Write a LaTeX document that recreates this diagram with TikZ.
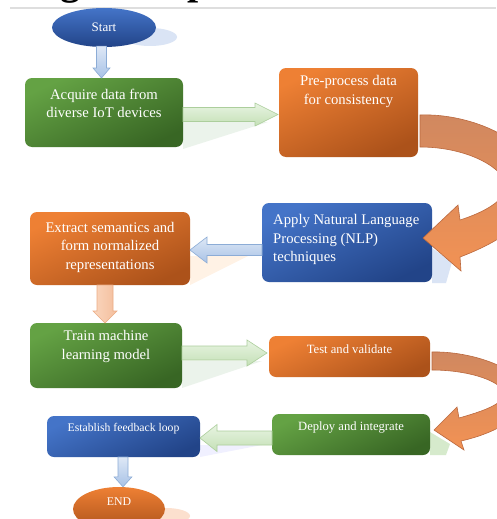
\documentclass[tikz,border=0pt]{standalone}
\usepackage{fontspec}
\setmainfont{Liberation Serif}
\usetikzlibrary{calc,shapes.geometric}
\definecolor{gTop}{RGB}{100,162,68}
\definecolor{gBot}{RGB}{56,102,36}
\definecolor{oTop}{RGB}{238,128,52}
\definecolor{oBot}{RGB}{172,82,26}
\definecolor{bTop}{RGB}{68,116,200}
\definecolor{bBot}{RGB}{34,68,136}
\definecolor{agTop}{RGB}{232,244,226}
\definecolor{agBot}{RGB}{196,224,182}
\definecolor{agDr}{RGB}{172,206,156}
\definecolor{abTop}{RGB}{222,232,246}
\definecolor{abBot}{RGB}{168,194,230}
\definecolor{abDr}{RGB}{140,172,214}
\definecolor{apTop}{RGB}{250,214,190}
\definecolor{apBot}{RGB}{244,190,156}
\definecolor{apDr}{RGB}{236,172,132}
\definecolor{uTop}{RGB}{208,136,96}
\definecolor{uBot}{RGB}{242,146,84}
\definecolor{uDr}{RGB}{186,104,62}
\definecolor{shB}{RGB}{218,228,245}
\definecolor{shO}{RGB}{252,224,206}
\definecolor{shG}{RGB}{214,234,204}
\tikzset{
  box/.style={rectangle, rounded corners=7pt, inner sep=0pt, outer sep=0pt},
  gbox/.style={box, top color=gTop, bottom color=gBot, shading angle=25},
  obox/.style={box, top color=oTop, bottom color=oBot, shading angle=25},
  bbox/.style={box, top color=bTop, bottom color=bBot, shading angle=25},
  txt/.style={text=white, align=center, inner sep=0pt, font=\fontsize{14.7}{18.5}\selectfont},
  stxt/.style={text=white, align=center, inner sep=0pt, font=\fontsize{12.6}{15}\selectfont},
  garrow/.style={top color=agTop, bottom color=agBot, draw=agDr, line width=0.6pt},
  barrow/.style={top color=abTop, bottom color=abBot, draw=abDr, line width=0.6pt},
  parrow/.style={left color=apTop, right color=apBot, draw=apDr, line width=0.6pt},
  uarrow/.style={top color=uTop, bottom color=uBot, draw=uDr, line width=0.6pt},
}
% horizontal block arrow: #1 style, #2 tail, #3 tip, #4 shaft half, #5 head half, #6 signed head length
\newcommand\blockH[6]{\path[#1] let \p1=(#2),\p2=(#3) in
  (\x1,{\y2+#4pt}) -- ({\x2-(#6pt)},{\y2+#4pt}) -- ({\x2-(#6pt)},{\y2+#5pt}) -- (\x2,\y2)
  -- ({\x2-(#6pt)},{\y2-#5pt}) -- ({\x2-(#6pt)},{\y2-#4pt}) -- (\x1,{\y2-#4pt}) -- cycle;}
% vertical (downward) block arrow
\newcommand\blockV[6]{\path[#1] let \p1=(#2),\p2=(#3) in
  ({\x2+#4pt},\y1) -- ({\x2+#4pt},{\y2+#6pt}) -- ({\x2+#5pt},{\y2+#6pt}) -- (\x2,\y2)
  -- ({\x2-#5pt},{\y2+#6pt}) -- ({\x2-#4pt},{\y2+#6pt}) -- ({\x2-#4pt},\y1) -- cycle;}
\begin{document}
\begin{tikzpicture}[x=1pt,y=-1pt]
\useasboundingbox (0,0) rectangle (496,519);
\fill[white] (0,0) rectangle (496,519);
% cut-off heading
\begin{scope}
\clip (0,0) rectangle (496,7);
\node[anchor=base west, inner sep=0pt, font=\bfseries\fontsize{40}{40}\selectfont] (hg) at (60,-5) {g};
\node[anchor=base west, inner sep=0pt, font=\bfseries\fontsize{40}{40}\selectfont] (hp) at (187,-5) {p};
\end{scope}
\draw[black!13, line width=1.2pt] (10,8) -- (496,8);

% faint shadows / reflections
\fill[shB] (150,37) ellipse [x radius=27, y radius=9];
\fill[shO] (166,516) ellipse [x radius=24, y radius=8];
\fill[green!40!black, opacity=0.08] (183,122) -- (268,122) -- (183,149) -- cycle;
\fill[orange, opacity=0.10] (190,256) -- (248,256) -- (190,285) -- cycle;
\fill[green!40!black, opacity=0.08] (182,361) -- (262,361) -- (182,388) -- cycle;
\fill[blue, opacity=0.06] (200,445) -- (262,445) -- (200,457) -- cycle;
\fill[shB] (432,248) -- (452,262) -- (446,283) -- (432,283) -- cycle;
\fill[shG] (430,432) -- (450,444) -- (446,455) -- (430,455) -- cycle;

% nodes
\node[ellipse, inner sep=0pt, minimum width=104pt, minimum height=39pt, top color=bTop, bottom color=bBot] (start) at (104,27.5) {};
\node[stxt, font=\fontsize{13}{15}\selectfont] (startT) at (start.center) {Start};

\node[gbox, minimum width=158pt, minimum height=69pt] (acq) at (104,112.5) {};
\node[txt] (acqT) at ($(acq.center)+(0,-9)$) {Acquire data from\\diverse IoT devices};

\node[obox, minimum width=139pt, minimum height=89pt] (pre) at (348.5,112.5) {};
\node[txt] (preT) at ($(pre.center)+(0,-21)$) {Pre-process data\\for consistency};

\node[bbox, minimum width=170pt, minimum height=79pt] (apply) at (347,242.5) {};
\node[txt, align=left, anchor=west] (applyT) at ($(apply.west)+(11,-3)$) {Apply Natural Language\\Processing (NLP)\\techniques};

\node[obox, minimum width=160pt, minimum height=73pt] (ext) at (110,248.5) {};
\node[txt] (extT) at ($(ext.center)+(0,-1.5)$) {Extract semantics and\\form normalized\\representations};

\node[gbox, minimum width=152pt, minimum height=65pt] (train) at (106,355.5) {};
\node[txt] (trainT) at ($(train.center)+(0,-9)$) {Train machine\\learning model};

\node[obox, minimum width=161pt, minimum height=41pt] (test) at (349.5,356.5) {};
\node[stxt] (testT) at ($(test.center)+(0,-7)$) {Test and validate};

\node[gbox, minimum width=158pt, minimum height=41pt] (deploy) at (351,434.5) {};
\node[stxt] (deployT) at ($(deploy.center)+(0,-7)$) {Deploy and integrate};

\node[bbox, minimum width=153pt, minimum height=41pt] (estab) at (123.5,436.5) {};
\node[stxt, font=\fontsize{11.7}{14}\selectfont] (estabT) at ($(estab.center)+(0,-8)$) {Establish feedback loop};

\node[ellipse, inner sep=0pt, minimum width=92pt, minimum height=44pt, top color=oTop, bottom color=oBot] (fin) at (119,509) {};
\node[stxt, font=\fontsize{11.8}{14}\selectfont] (finT) at ($(fin.center)+(0,-7)$) {END};

% straight block arrows
\blockV{barrow}{$(start.south)+(-2.5,-1)$}{$(acq.north)+(-2.5,0)$}{5}{8.5}{10}
\blockH{garrow}{acq.east}{$(pre.west)+(-1,2)$}{7}{11.5}{23}
\blockH{barrow}{apply.west}{$(ext.east)+(0,1.5)$}{5.5}{13}{-17}
\blockV{parrow}{ext.south}{$(train.north)+(-1,0)$}{8}{12}{12}
\blockH{garrow}{train.east}{$(test.west)+(-2,-3.5)$}{7}{13}{20}
\blockH{garrow}{deploy.west}{$(estab.east)+(0,1.5)$}{7}{13.5}{-17}
\blockV{barrow}{estab.south}{$(fin.north)+(4,0)$}{5}{9}{10}

% curved U-turn arrows
\path[uarrow] ($(pre.east)+(2,2.5)$) .. controls (470,113) and (535,140) .. (538,182)
  .. controls (540,215) and (505,240) .. (460,257) -- (461,271)
  -- ($(apply.east)+(-9,-4.5)$) -- (458,205) -- (460,220)
  .. controls (485,212) and (506,200) .. (506,186)
  .. controls (506,170) and (470,147) .. ($(pre.east)+(2,34.5)$) -- cycle;
\path[uarrow] ($(test.east)+(2,-4.5)$) .. controls (470,351) and (525,368) .. (525,395)
  .. controls (525,415) and (500,432) .. (461,441) -- (464,450)
  -- ($(deploy.east)+(4,-4.5)$) -- (457,407) -- (459,418)
  .. controls (480,412) and (502,405) .. (504,395)
  .. controls (505,382) and (470,370) .. ($(test.east)+(2,13.5)$) -- cycle;
\end{tikzpicture}
\end{document}
